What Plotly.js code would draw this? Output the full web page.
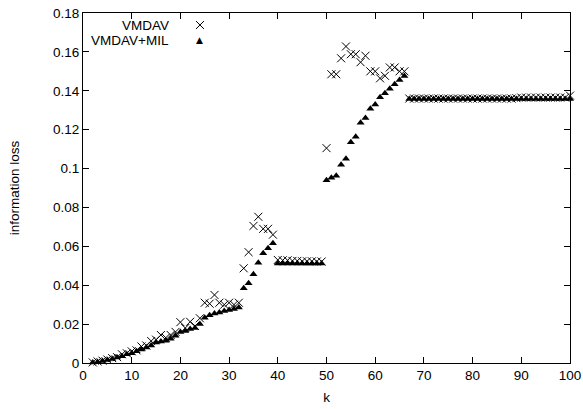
<!DOCTYPE html>
<html>
<head>
<meta charset="utf-8">
<script src="https://cdn.plot.ly/plotly-3.0.1.min.js"></script>
<style>html,body{margin:0;padding:0;background:#fff;}#chart{width:583px;height:409px;}</style>
</head>
<body>
<div id="chart"></div>
<script>
// k values 2..100
var kValues = [];
for (var i = 2; i <= 100; i++) kValues.push(i);

var vmdav = [
  0.0003, 0.0008, 0.0012, 0.0018, 0.0025, 0.0030, 0.0045, 0.0050, 0.0060,   // k=2..10
  0.0065, 0.0085, 0.0090, 0.0113, 0.0120, 0.0144, 0.0130, 0.0144, 0.0160, 0.0210, // k=11..20
  0.0180, 0.0212, 0.0190, 0.0230, 0.0310, 0.0305, 0.0350, 0.0310, 0.0300, 0.0310, // k=21..30
  0.0300, 0.0310, 0.0487, 0.0570, 0.0705, 0.0752, 0.0690, 0.0690, 0.0660, 0.0530, // k=31..40
  0.0528, 0.0528, 0.0525, 0.0525, 0.0523, 0.0523, 0.0523, 0.0522, 0.0522, 0.1105, // k=41..50
  0.1485, 0.1485, 0.1567, 0.1628, 0.1588, 0.1588, 0.1547, 0.1580, 0.1500, 0.1500, // k=51..60
  0.1464, 0.1477, 0.1520, 0.1520, 0.1500, 0.1500, 0.1360, 0.1360, 0.1360, 0.1360, // k=61..70
  0.1360, 0.1360, 0.1360, 0.1360, 0.1360, 0.1360, 0.1360, 0.1360, 0.1360, 0.1360, // k=71..80
  0.1360, 0.1360, 0.1360, 0.1360, 0.1360, 0.1360, 0.1360, 0.1360, 0.1362, 0.1365, // k=81..90
  0.1365, 0.1365, 0.1365, 0.1365, 0.1365, 0.1365, 0.1365, 0.1365, 0.1365, 0.1375  // k=91..100
];

var vmdavMil = [
  0.0002, 0.0005, 0.0010, 0.0015, 0.0020, 0.0028, 0.0035, 0.0045, 0.0050,   // k=2..10
  0.0060, 0.0070, 0.0080, 0.0090, 0.0105, 0.0110, 0.0115, 0.0125, 0.0140, 0.0160, // k=11..20
  0.0165, 0.0175, 0.0180, 0.0200, 0.0233, 0.0245, 0.0255, 0.0260, 0.0268, 0.0273, // k=21..30
  0.0278, 0.0285, 0.0384, 0.0410, 0.0456, 0.0516, 0.0564, 0.0590, 0.0616, 0.0512, // k=31..40
  0.0512, 0.0512, 0.0512, 0.0512, 0.0512, 0.0512, 0.0512, 0.0512, 0.0512, 0.0940, // k=41..50
  0.0953, 0.0963, 0.1020, 0.1050, 0.1135, 0.1164, 0.1236, 0.1260, 0.1307, 0.1330, // k=51..60
  0.1367, 0.1387, 0.1410, 0.1434, 0.1456, 0.1476, 0.1358, 0.1358, 0.1358, 0.1358, // k=61..70
  0.1358, 0.1358, 0.1358, 0.1358, 0.1358, 0.1358, 0.1358, 0.1358, 0.1358, 0.1358, // k=71..80
  0.1358, 0.1358, 0.1358, 0.1358, 0.1358, 0.1358, 0.1358, 0.1358, 0.1358, 0.1358, // k=81..90
  0.1358, 0.1358, 0.1358, 0.1358, 0.1358, 0.1358, 0.1358, 0.1358, 0.1358, 0.1358  // k=91..100
];

var seriesNames = ["VMDAV", "VMDAV+MIL"];
var xTicks = [0, 10, 20, 30, 40, 50, 60, 70, 80, 90, 100];
var yTicks = [0, 0.02, 0.04, 0.06, 0.08, 0.1, 0.12, 0.14, 0.16, 0.18];
var yTickText = ["0", "0.02", "0.04", "0.06", "0.08", "0.1", "0.12", "0.14", "0.16", "0.18"];

var font = {family: "Liberation Sans, Arial, Helvetica, sans-serif", size: 13.5, color: "#000"};

var traces = [
  {x: kValues, y: vmdav, name: seriesNames[0], type: "scatter", mode: "markers",
   marker: {symbol: "x-thin-open", size: 8, color: "#000", line: {width: 1, color: "#000"}}, cliponaxis: false},
  {x: kValues, y: vmdavMil, name: seriesNames[1], type: "scatter", mode: "markers",
   marker: {symbol: "triangle-up", size: 7, color: "#000", line: {width: 0}}, cliponaxis: false}
];

var axisCommon = {
  showgrid: false, zeroline: false, showline: true, linecolor: "#000", linewidth: 1,
  mirror: "allticks", ticks: "inside", ticklen: 6, tickwidth: 1, tickcolor: "#000",
  tickfont: font
};

// legend sample for the "x" series, a thin cross in paper space
var lx = 0.2402, ly = 0.9657, ldx = 0.0082, ldy = 0.0114;

var layout = {
  width: 583, height: 409,
  margin: {l: 83, r: 13, t: 13, b: 46},
  paper_bgcolor: "#fff", plot_bgcolor: "#fff",
  font: font,
  showlegend: false,
  xaxis: Object.assign({}, axisCommon, {
    range: [0, 100], tickvals: xTicks, ticktext: xTicks.map(String),
    title: {text: "k", font: font, standoff: 10}
  }),
  yaxis: Object.assign({}, axisCommon, {
    range: [0, 0.18], tickvals: yTicks, ticktext: yTickText,
    title: {text: "information loss", font: font, standoff: 30}
  }),
  shapes: [
    {type: "line", xref: "paper", yref: "paper", x0: lx - ldx, y0: ly - ldy, x1: lx + ldx, y1: ly + ldy,
     line: {color: "#000", width: 1}},
    {type: "line", xref: "paper", yref: "paper", x0: lx - ldx, y0: ly + ldy, x1: lx + ldx, y1: ly - ldy,
     line: {color: "#000", width: 1}}
  ],
  annotations: [
    {xref: "paper", yref: "paper", x: 0.181, y: 0.965, xanchor: "right", yanchor: "middle",
     text: seriesNames[0], showarrow: false, font: font},
    {xref: "paper", yref: "paper", x: 0.181, y: 0.922, xanchor: "right", yanchor: "middle",
     text: seriesNames[1], showarrow: false, font: font},
    {xref: "paper", yref: "paper", x: 0.24, y: 0.922, xanchor: "center", yanchor: "middle",
     text: "▲", showarrow: false, font: {family: "DejaVu Sans", size: 9, color: "#000"}}
  ]
};

Plotly.newPlot("chart", traces, layout, {displayModeBar: false, staticPlot: true});
</script>
</body>
</html>
